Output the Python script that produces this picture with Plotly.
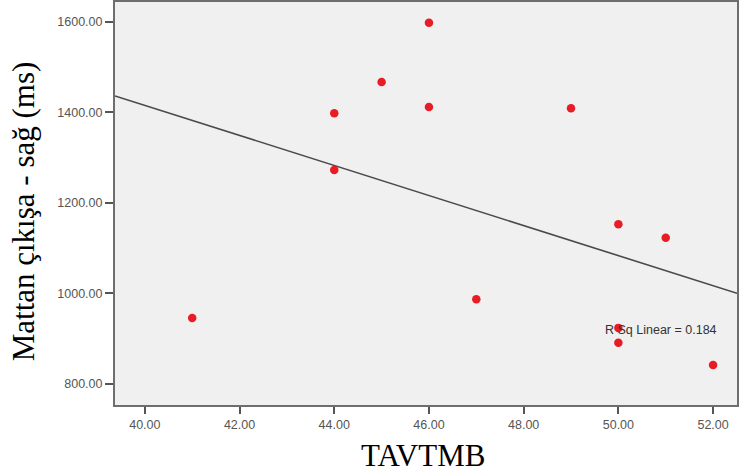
import plotly.graph_objects as go

# Data
tavtmb = [41, 44, 44, 45, 46, 46, 47, 49, 50, 51, 50, 50, 52]
mattan_sag = [946, 1398, 1273, 1467, 1598, 1412, 987, 1409, 1153, 1123, 924, 891, 842]

# Fit line
fit_slope = -33.2
fit_intercept = 2743.6
r_sq_text = "R Sq Linear = 0.184"

x_range = [39.37, 52.505]
y_range = [753.6, 1644]
x_ticks = [40, 42, 44, 46, 48, 50, 52]
y_ticks = [800, 1000, 1200, 1400, 1600]

fit_x = x_range
fit_y = [fit_intercept + fit_slope * v for v in fit_x]

fig = go.Figure()
fig.add_trace(go.Scatter(
    x=fit_x, y=fit_y, mode="lines",
    line=dict(color="#4a4a4a", width=1.6),
    hoverinfo="skip", showlegend=False,
))
fig.add_trace(go.Scatter(
    x=tavtmb, y=mattan_sag, mode="markers",
    marker=dict(color="#e81c24", size=8.5, line=dict(width=0)),
    showlegend=False,
))

fig.add_annotation(
    x=50.905, y=919, xref="x", yref="y", text=r_sq_text, showarrow=False,
    font=dict(family="Arial, Liberation Sans, sans-serif", size=12.5, color="#333333"),
)

serif = "Liberation Serif, Times New Roman, serif"
fig.add_annotation(
    x=-0.1458, y=0.4814, xref="paper", yref="paper", text="Mattan çıkışa - sağ (ms)",
    textangle=-90, showarrow=False, xanchor="center", yanchor="middle",
    font=dict(family=serif, size=31, color="black"),
)
fig.add_annotation(
    x=0.4952, y=-0.125, xref="paper", yref="paper", text="TAVTMB",
    showarrow=False, xanchor="center", yanchor="middle",
    font=dict(family=serif, size=31, color="black"),
)

axis_font = dict(family="Arial, Liberation Sans, sans-serif", size=12.5, color="#555555")
fig.update_layout(
    width=739, height=476,
    margin=dict(l=115, r=0, t=2, b=71),
    paper_bgcolor="white",
    plot_bgcolor="#f0f0f0",
    xaxis=dict(
        range=x_range, tickvals=x_ticks, tickformat=".2f",
        ticks="outside", ticklen=7, tickwidth=1.5, tickcolor="#555555",
        showgrid=False, zeroline=False,
        showline=True, linecolor="#6e6e6e", linewidth=2, mirror=True,
        tickfont=axis_font,
    ),
    yaxis=dict(
        range=y_range, tickvals=y_ticks, tickformat=".2f",
        ticks="outside", ticklen=8, tickwidth=1.5, tickcolor="#555555",
        showgrid=False, zeroline=False,
        showline=True, linecolor="#6e6e6e", linewidth=2, mirror=True,
        tickfont=axis_font,
    ),
)

fig.write_html("out.html")
